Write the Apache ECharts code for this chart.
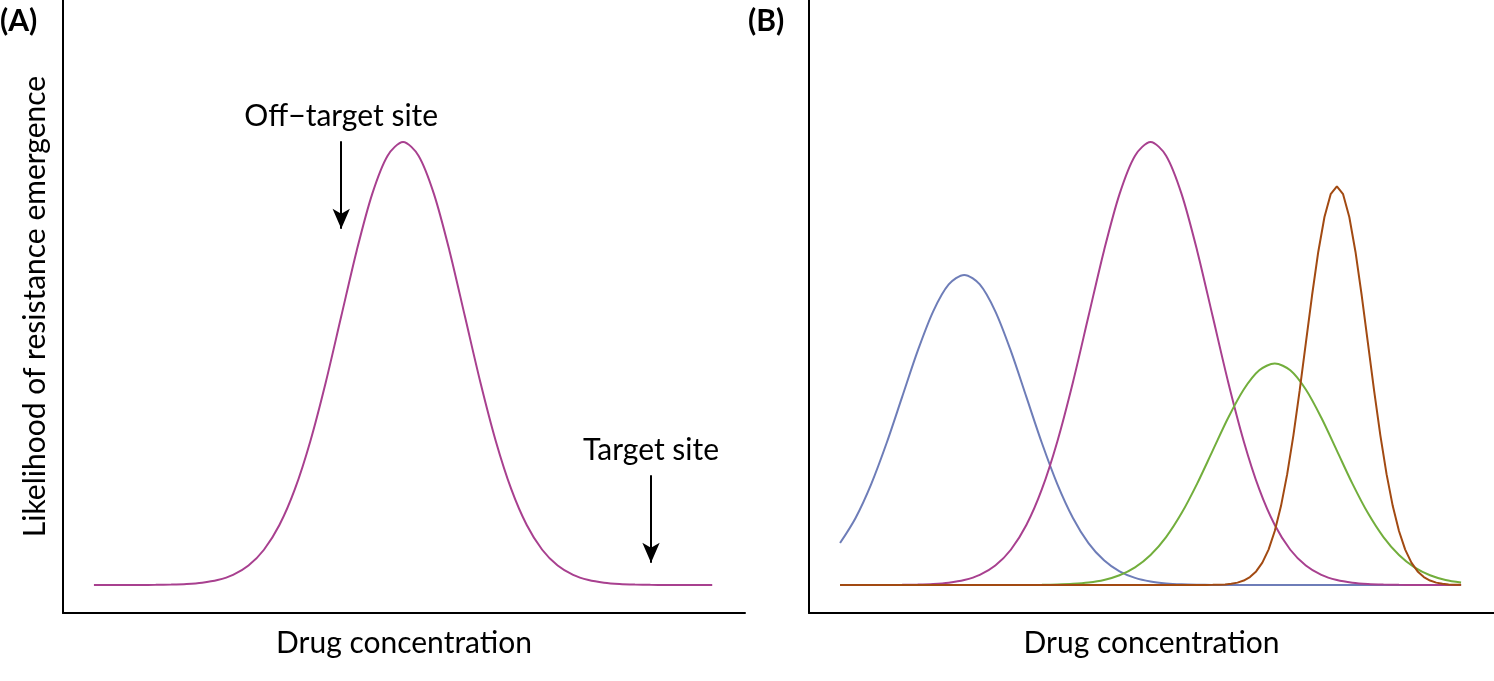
<!DOCTYPE html>
<html>
<head>
<meta charset="utf-8">
<script src="https://cdn.jsdelivr.net/npm/echarts@6/dist/echarts.min.js"></script>
<style>
html,body{margin:0;padding:0;background:#fff;}
#c{width:1494px;height:681px;}
</style>
</head>
<body>
<div id="c"></div>
<script>
// x positions (drug concentration, arbitrary units)
const xBroad = [0,2.5,5,7.5,10,12.5,15,17.5,20,22.5,25,27.5,30,32.5,35,37.5,40,42.5,45,47.5,50,52.5,55,57.5,60,62.5,65,67.5,70,72.5,75,77.5,80,82.5,85,87.5,90,92.5,95,97.5,100];
// Panel A: off-target curve
const offTargetA = [0,0,0,0.01,0.03,0.09,0.22,0.51,1.11,2.28,4.39,7.96,13.53,21.63,32.47,45.78,60.65,75.48,88.25,96.92,100,96.92,88.25,75.48,60.65,45.78,32.47,21.63,13.53,7.96,4.39,2.28,1.11,0.51,0.22,0.09,0.03,0.01,0,0,0];
// Panel B curves
const blueB = [9.47,15.14,22.73,32.05,42.46,52.84,61.78,67.85,70,67.85,61.78,52.84,42.46,32.05,22.73,15.14,9.47,5.57,3.07,1.60,0.78,0.36,0.15,0.06,0.02,0.01,0,0,0,0,0,0,0,0,0,0,0,0,0,0,0];
const purpleB = [0,0,0,0.01,0.03,0.09,0.22,0.51,1.11,2.28,4.39,7.96,13.53,21.63,32.47,45.78,60.65,75.48,88.25,96.92,100,96.92,88.25,75.48,60.65,45.78,32.47,21.63,13.53,7.96,4.39,2.28,1.11,0.51,0.22,0.09,0.03,0.01,0,0,0];
const greenB = [0,0,0,0,0,0,0,0,0,0,0,0.01,0.02,0.04,0.11,0.26,0.56,1.14,2.20,3.98,6.77,10.82,16.23,22.89,30.33,37.74,44.12,48.46,50,48.46,44.12,37.74,30.33,22.89,16.23,10.82,6.77,3.98,2.20,1.14,0.56];
const xBrown = [0,20,40,55,58,59,60,61,62,63,64,65,66,67,68,69,70,71,72,73,74,75,76,77,78,79,80,81,82,83,84,85,86,87,88,89,90,91,92,93,94,95,96,97,98,99,100];
const brownB = [0,0,0,0,0,0.01,0.03,0.07,0.14,0.28,0.54,1.00,1.79,3.06,5.05,8.00,12.18,17.81,25.02,33.78,43.81,54.59,65.35,75.18,83.08,88.22,90,88.22,83.08,75.18,65.35,54.59,43.81,33.78,25.02,17.81,12.18,8.00,5.05,3.06,1.79,1.00,0.54,0.28,0.14,0.07,0.03];
// annotation arrows: [x, yStart, yEnd]
const offTargetArrow = [40, 100.2, 80.4];
const targetArrow = [90.1, 24.8, 5.0];
const labels = { panelA: '(A)', panelB: '(B)', xName: 'Drug concentration', yName: 'Likelihood of resistance emergence', offTarget: 'Off\u2212target site', target: 'Target site' };

const zip = (xs, ys) => xs.map((x, i) => [x, ys[i]]);
const FONT = 'Lato';
const FS = 30;

const chart = echarts.init(document.getElementById('c'), null, {renderer: 'canvas'});
const axisLine = {show: true, onZero: false, lineStyle: {color: '#000', width: 2}};
const xAx = (gi, name) => ({
  type: 'value', gridIndex: gi, min: -5, max: 105.3,
  axisLine: axisLine, axisTick: {show: false}, axisLabel: {show: false}, splitLine: {show: false},
  name: name, nameLocation: 'middle', nameGap: 15,
  nameTextStyle: {fontFamily: FONT, fontSize: FS, color: '#000', verticalAlign: 'top'}
});
const yAx = (gi, name) => ({
  type: 'value', gridIndex: gi, min: -6.32, max: 132.06,
  axisLine: axisLine, axisTick: {show: false}, axisLabel: {show: false}, splitLine: {show: false},
  name: name, nameLocation: 'middle', nameGap: 13,
  nameTextStyle: {fontFamily: FONT, fontSize: FS, color: '#000'}
});
const lineS = (name, xi, data, color, smooth) => ({
  type: 'line', name: name, xAxisIndex: xi, yAxisIndex: xi, data: data,
  showSymbol: false, symbol: 'none', smooth: smooth,
  lineStyle: {color: color, width: 2}, animation: false, silent: true
});
const arrowML = (arr, text) => ({
  symbol: ['none', 'arrow'], symbolSize: [13, 20], silent: true, animation: false,
  lineStyle: {color: '#000', width: 2, type: 'solid'},
  label: {show: true, position: 'start', formatter: text, fontFamily: FONT, fontSize: FS, color: '#000', distance: 10},
  data: [[{coord: [arr[0], arr[1]]}, {coord: [arr[0], arr[2]]}]]
});

const sA = lineS('Off-target', 0, zip(xBroad, offTargetA), '#A8408F', 0.3);
sA.markLine = arrowML(offTargetArrow, labels.offTarget);
const sArrow2 = {type: 'line', xAxisIndex: 0, yAxisIndex: 0, data: [], markLine: arrowML(targetArrow, labels.target)};

chart.setOption({
  backgroundColor: '#fff',
  animation: false,
  grid: [
    {left: 63, top: 0, width: 682, height: 613},
    {left: 809, top: 0, width: 685, height: 613}
  ],
  xAxis: [xAx(0, labels.xName), xAx(1, labels.xName)],
  yAxis: [yAx(0, labels.yName), yAx(1, '')],
  graphic: [
    {type: 'text', left: 0, top: 6, style: {text: labels.panelA, font: 'bold 30px ' + FONT, fill: '#000'}},
    {type: 'text', left: 748, top: 6, style: {text: labels.panelB, font: 'bold 30px ' + FONT, fill: '#000'}}
  ],
  series: [
    sA, sArrow2,
    lineS('Blue', 1, zip(xBroad, blueB), '#6E7DB8', 0.3),
    lineS('Purple', 1, zip(xBroad, purpleB), '#A8408F', 0.3),
    lineS('Green', 1, zip(xBroad, greenB), '#72AE3C', 0.3),
    lineS('Brown', 1, zip(xBrown, brownB), '#A24A12', false)
  ]
});
</script>
</body>
</html>
